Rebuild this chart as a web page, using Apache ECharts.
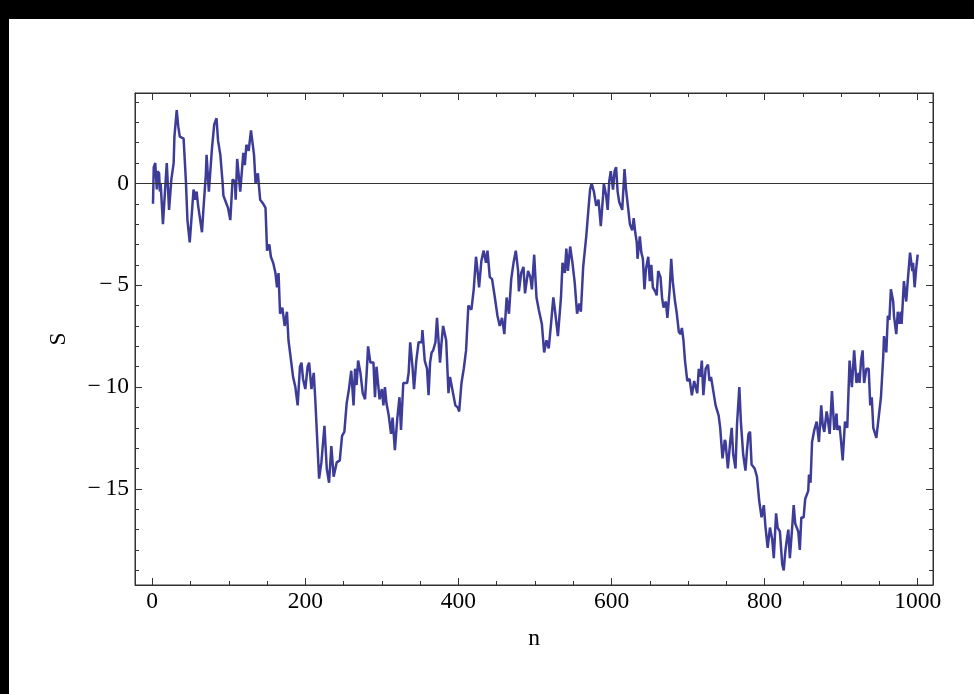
<!DOCTYPE html>
<html>
<head>
<meta charset="utf-8">
<script src="https://cdn.jsdelivr.net/npm/echarts@6/dist/echarts.min.js"></script>
<style>
  html, body { margin: 0; padding: 0; background: #000; width: 974px; height: 694px; overflow: hidden; }
  #chart { position: absolute; left: 9px; top: 19px; width: 965px; height: 675px; background: #fff; }
</style>
</head>
<body>
<div id="chart"></div>
<script>
// Random walk: step index n and running sum S
const nValues = [
  1,2,4,6,7,9,10,11,14,19,22,25,28,29,32,34,36,41,43,44,46,49,54,56,58,60,65,67,70,71,74,78,81,84,86,89,92,93,96,99,
  102,105,108,109,111,115,119,121,123,126,129,131,133,135,138,141,145,148,150,153,155,158,161,163,165,167,170,173,176,178,
  180,184,187,190,193,195,197,200,203,205,208,211,213,218,221,225,228,231,234,237,241,245,248,251,254,257,260,263,265,267,
  269,272,275,278,280,282,285,289,291,293,297,300,302,304,306,309,312,314,317,320,323,325,328,333,335,337,340,342,345,348,
  352,353,356,359,361,363,365,367,370,372,376,378,380,384,387,389,393,396,399,401,404,407,410,413,417,420,423,425,427,430,
  433,436,438,441,444,448,451,454,457,460,463,466,469,472,475,478,479,482,485,487,491,494,496,499,502,505,509,512,515,518,
  521,524,526,530,534,536,539,541,543,546,549,552,555,558,560,563,567,570,572,574,577,580,583,586,589,590,593,595,597,599,
  602,604,606,608,610,614,617,619,622,624,627,629,631,633,634,637,639,641,643,645,648,650,652,654,657,659,661,664,666,668,
  671,673,676,678,680,683,685,688,690,692,694,696,699,702,705,708,712,714,716,718,720,723,726,728,730,733,736,740,742,745,
  748,749,752,755,757,759,762,764,767,769,772,775,777,779,781,783,787,790,793,796,799,801,804,807,810,812,815,817,820,823,
  825,827,829,831,833,836,838,840,842,844,846,848,851,853,857,858,860,862,865,868,871,874,876,878,881,882,885,888,891,894,
  895,898,900,902,905,908,911,914,917,920,923,924,926,928,930,933,936,938,940,942,946,949,952,955,956,959,961,963,965,968,
  969,972,974,976,978,979,982,985,987,990,993,994,996,998,1000
];
const sValues = [
  -1.0,0.8,1.0,-0.3,0.6,0.5,-0.4,0,-2.0,1.0,-1.3,0.2,1.0,2.3,3.6,2.8,2.3,2.2,0.8,0.1,-1.8,-2.9,-0.3,-0.8,-0.4,-1.1,-2.4,-1.2,0.4,1.4,-0.4,1.7,2.9,3.2,2.1,1.4,0,-0.6,-0.9,-1.2,
  -1.8,0.2,0.1,-0.8,1.2,-0.4,1.5,0.9,1.9,1.6,2.6,2.0,1.4,0,0.5,-0.8,-1.0,-1.2,-3.3,-3.0,-3.6,-3.9,-4.4,-5.1,-4.4,-6.4,-6.1,-7.0,-6.3,-7.7,
  -8.3,-9.5,-10.0,-10.9,-9.0,-8.8,-9.6,-10.1,-9.0,-8.8,-10.1,-9.3,-10.6,-14.5,-13.7,-11.9,-14.0,-14.7,-12.9,-14.4,-13.7,-13.6,-12.4,-12.2,-10.8,-10.1,-9.2,-10.9,-9.1,-9.9,
  -8.7,-9.3,-10.3,-10.6,-9.4,-8.0,-8.8,-8.8,-10.5,-9.0,-10.6,-10.1,-10.9,-10.0,-10.8,-11.4,-12.3,-11.5,-13.1,-11.6,-10.5,-12.1,-9.8,-9.8,-9.3,-7.8,-9.0,-10.1,-8.7,-7.8,
  -7.8,-7.2,-8.7,-9.1,-10.4,-8.8,-8.3,-8.2,-7.8,-6.6,-8.8,-7.8,-7.0,-7.7,-10.3,-9.5,-10.3,-10.9,-11.0,-11.2,-9.8,-9.1,-8.2,-6.0,-6.2,-5.2,-3.6,-4.3,-5.1,-3.8,
  -3.3,-3.9,-3.3,-4.6,-4.7,-5.7,-6.5,-7.0,-6.6,-7.4,-5.6,-6.4,-4.7,-3.9,-3.3,-4.3,-5.3,-4.4,-4.1,-5.4,-4.3,-4.6,-5.2,-3.5,-5.6,-6.2,-6.9,-8.3,-7.7,-8.1,
  -6.9,-5.6,-6.2,-7.5,-5.6,-3.9,-4.4,-3.2,-4.3,-3.1,-3.9,-4.9,-6.4,-5.9,-6.3,-4.1,-2.6,-1.2,-0.3,0,-0.4,-1.1,-0.8,-2.1,-0.6,0,-0.6,-1.3,0.1,0.6,
  -0.3,0.6,0.8,-0.4,-0.9,-1.3,0.7,-0.3,-1.3,-2.0,-2.3,-1.7,-2.4,-2.9,-3.7,-2.6,-3.4,-3.7,-5.2,-4.2,-3.6,-4.8,-4.0,-5.1,-5.3,-5.5,-4.3,-4.6,-5.6,-6.1,
  -5.8,-6.6,-5.2,-3.7,-4.8,-5.8,-6.3,-7.3,-7.4,-7.1,-7.7,-8.7,-9.7,-9.6,-10.4,-9.7,-10.3,-9.1,-9.5,-8.7,-10.4,-9.1,-8.9,-9.7,-9.5,-10.2,-10.9,-11.4,-12.0,-13.5,
  -12.6,-12.7,-14.0,-12.7,-12.0,-13.3,-14.0,-11.8,-10.0,-11.7,-13.3,-14.1,-13.1,-12.3,-12.2,-13.8,-14.0,-14.4,-15.6,-16.4,-15.8,-16.8,-17.9,-16.9,-17.5,-18.4,-16.2,-16.9,-17.1,-18.7,
  -19.0,-18.1,-17.5,-17.0,-18.4,-16.9,-15.8,-16.7,-16.9,-17.1,-18.0,-16.4,-16.4,-15.5,-15.1,-14.3,-14.7,-12.7,-12.1,-11.7,-12.7,-10.9,-11.9,-12.2,-11.2,-11.4,-12.3,-10.2,-12.1,-11.3,
  -12.1,-11.9,-12.7,-13.6,-11.7,-12.0,-8.7,-10.0,-8.2,-9.8,-9.3,-9.8,-8.7,-8.2,-9.8,-9.1,-9.1,-10.9,-10.5,-12.0,-12.5,-11.5,-10.5,-8.5,-7.5,-8.3,-6.5,-6.7,-5.2,-5.8,
  -6.5,-7.4,-6.3,-6.9,-6.3,-6.9,-4.8,-5.8,-4.8,-3.4,-4.3,-3.9,-5.1,-4.2,-3.5
];

// Axis ticks (major ones carry labels)
const xMajorTicks = [0, 200, 400, 600, 800, 1000];
const xMinorTicks = [50, 100, 150, 250, 300, 350, 450, 500, 550, 650, 700, 750, 850, 900, 950];
const yMajorTicks = [-15, -10, -5, 0];
const yMinorTicks = [-19, -18, -17, -16, -14, -13, -12, -11, -9, -8, -7, -6, -4, -3, -2, -1, 1, 2, 3, 4];

const X_MIN = -22.5, X_MAX = 1020;
const Y_MIN = -19.72, Y_MAX = 4.44;

const INK = '#333';
const FONT = "'Liberation Serif', 'Times New Roman', serif";
const FONT_SIZE = 23.5;

function fmt(v) {
  return v < 0 ? '\u2212\u2009' + Math.abs(v) : String(v);
}

function xAxisDef(position, ticks, len, withLabels) {
  return {
    type: 'value', position: position, min: X_MIN, max: X_MAX,
    axisLine: { show: withLabels, onZero: false, lineStyle: { color: INK, width: 1 } },
    axisTick: { show: true, inside: true, length: len, customValues: ticks, lineStyle: { color: INK, width: 1 } },
    axisLabel: withLabels
      ? { show: true, customValues: ticks, formatter: fmt, margin: 5, color: '#000', fontFamily: FONT, fontSize: FONT_SIZE }
      : { show: false, customValues: ticks },
    splitLine: { show: false }
  };
}
function yAxisDef(position, ticks, len, withLabels) {
  return {
    type: 'value', position: position, min: Y_MIN, max: Y_MAX,
    axisLine: { show: withLabels, onZero: false, lineStyle: { color: INK, width: 1 } },
    axisTick: { show: true, inside: true, length: len, customValues: ticks, lineStyle: { color: INK, width: 1 } },
    axisLabel: withLabels
      ? { show: true, customValues: ticks, formatter: fmt, margin: 6, color: '#000', fontFamily: FONT, fontSize: FONT_SIZE }
      : { show: false, customValues: ticks },
    splitLine: { show: false }
  };
}

const xBottom = xAxisDef('bottom', xMajorTicks, 7, true);
xBottom.name = 'n';
xBottom.nameLocation = 'middle';
xBottom.nameGap = 42;
xBottom.nameTextStyle = { fontFamily: FONT, fontSize: FONT_SIZE, color: '#000' };

const yLeft = yAxisDef('left', yMajorTicks, 7, true);
yLeft.name = 'S';
yLeft.nameLocation = 'middle';
yLeft.nameGap = 64;
yLeft.nameTextStyle = { fontFamily: FONT, fontSize: FONT_SIZE, color: '#000' };

const xTopMajor = xAxisDef('top', xMajorTicks, 7, false);
xTopMajor.axisLine.show = true;
const yRightMajor = yAxisDef('right', yMajorTicks, 7, false);
yRightMajor.axisLine.show = true;

const chart = echarts.init(document.getElementById('chart'), null, { renderer: 'canvas' });
chart.setOption({
  animation: false,
  backgroundColor: '#fff',
  grid: { left: 126, right: 41, top: 74, bottom: 109, show: true, borderColor: INK, borderWidth: 1, containLabel: false },
  xAxis: [
    xBottom,
    xAxisDef('bottom', xMinorTicks, 4, false),
    xTopMajor,
    xAxisDef('top', xMinorTicks, 4, false)
  ],
  yAxis: [
    yLeft,
    yAxisDef('left', yMinorTicks, 4, false),
    yRightMajor,
    yAxisDef('right', yMinorTicks, 4, false)
  ],
  series: [{
    type: 'line',
    xAxisIndex: 0,
    yAxisIndex: 0,
    data: nValues.map((n, i) => [n, sValues[i]]),
    showSymbol: false,
    symbol: 'none',
    lineStyle: { color: '#3d3d99', width: 2.5 },
    markLine: {
      silent: true,
      symbol: 'none',
      label: { show: false },
      lineStyle: { color: '#333', width: 1, type: 'solid' },
      data: [{ yAxis: 0 }]
    }
  }]
});
</script>
</body>
</html>
